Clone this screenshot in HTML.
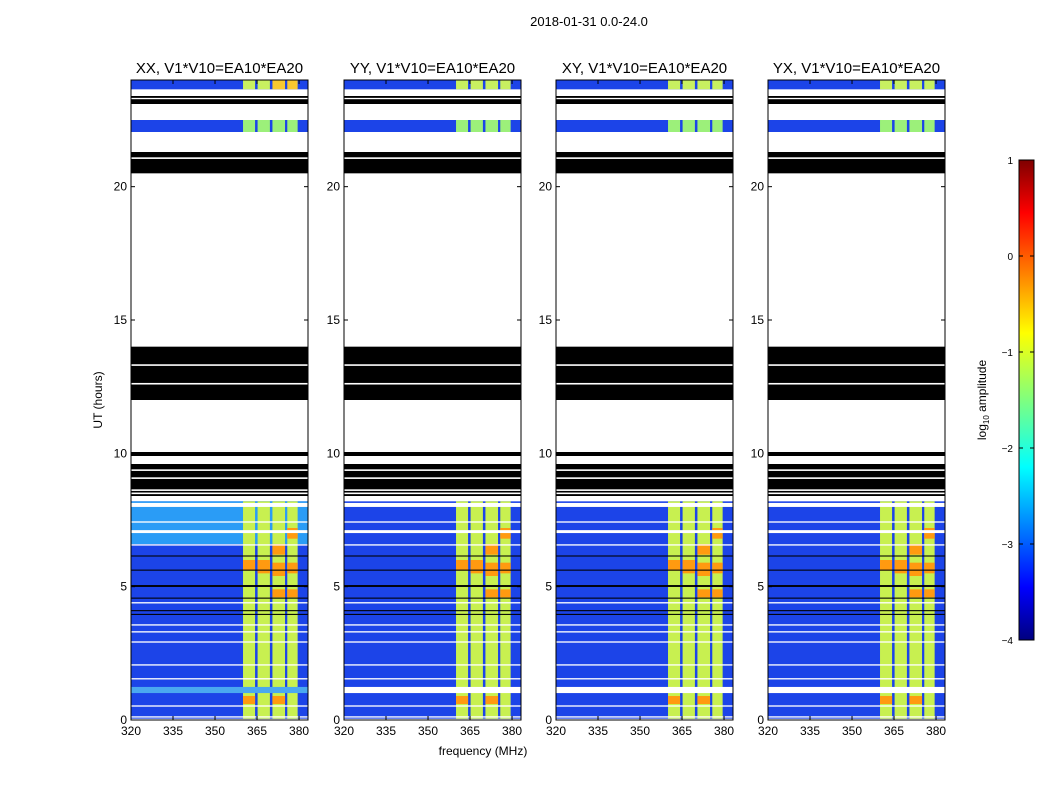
<!DOCTYPE html>
<html><head><meta charset="utf-8"><style>
body{margin:0;background:#fff;font-family:"Liberation Sans",sans-serif}
svg text{font-family:"Liberation Sans",sans-serif}
</style></head><body>
<svg id="c" width="1050" height="800" xmlns="http://www.w3.org/2000/svg">
<text x="589" y="26" font-size="13" text-anchor="middle">2018-01-31 0.0-24.0</text>
<text x="483" y="755" font-size="12" text-anchor="middle">frequency (MHz)</text>
<text transform="translate(102,400) rotate(-90)" font-size="12" text-anchor="middle">UT (hours)</text>
<defs><linearGradient id="jet" x1="0" y1="1" x2="0" y2="0">
<stop offset="0" stop-color="#00007f"/><stop offset="0.11" stop-color="#0000ff"/><stop offset="0.36" stop-color="#00ffff"/><stop offset="0.5" stop-color="#7fff7f"/><stop offset="0.64" stop-color="#ffff00"/><stop offset="0.89" stop-color="#ff0000"/><stop offset="1" stop-color="#7f0000"/></linearGradient></defs>
<rect x="1019" y="160" width="15" height="480" fill="url(#jet)" stroke="#000"/>
<text transform="translate(986,400) rotate(-90)" font-size="12" text-anchor="middle">log<tspan font-size="8" dy="3">10</tspan><tspan dy="-3"> amplitude</tspan></text>
<g id="cbt"></g>
</svg>
<script>
const panelTitles=["XX, V1*V10=EA10*EA20","YY, V1*V10=EA10*EA20","XY, V1*V10=EA10*EA20","YX, V1*V10=EA10*EA20"];
const panelX=[131,344,556,768];
const dataRows=[[23.65,24],[22.05,22.5],[0.05,8.2]];
const blackRows=[[23.1,23.4],[20.5,21.3],[12.0,14.0],[9.9,10.05],[8.4,9.6],[6.13,6.17],[5.6,5.64],[4.99,5.06],[4.55,4.59],[4.08,4.12],[3.94,3.98]];
const whiteRows=[[23.28,23.33],[21.04,21.1],[13.28,13.34],[12.58,12.64],[9.34,9.4],[9.04,9.1],[8.59,8.65],[8.47,8.53],[7.99,8.14],[7.4,7.45],[7.01,7.12],[6.54,6.59],[4.37,4.42],[3.54,3.59],[3.28,3.33],[2.9,2.95],[2.04,2.09],[1.52,1.57],[0.5,0.55],[0.09,0.14]];
const lightRows=[[1.01,1.24]];
const bandCols=[[360,364.3],[365.2,369.6],[370.5,375],[375.8,379.5]];
const hotCells=[[2,5.4,5.9],[3,5.5,5.9],[2,4.6,4.9],[3,4.6,4.9],[0,5.6,6.0],[1,5.5,6.0],[2,6.2,6.6],[3,6.8,7.2],[2,0.6,0.9],[0,0.6,0.9]];
const xTicks=[320,335,350,365,380];
const yTicks=[0,5,10,15,20];
const cbTicks=[1,0,-1,-2,-3,-4];
const NS="http://www.w3.org/2000/svg",svg=document.getElementById('c');
const W=177,top0=80,bot=720,fmin=320,fmax=383.2;
const yS=h=>bot-h/24*(bot-top0);
function el(t,a,p){const e=document.createElementNS(NS,t);for(const k in a)e.setAttribute(k,a[k]);(p||svg).appendChild(e);return e;}
panelX.forEach((px,pi)=>{
 const xS=f=>px+(f-fmin)/(fmax-fmin)*W;
 const g=el('g',{});
 
 
 dataRows.forEach((r,ri)=>{
  const main=r[1]<9;
  const bg=el('rect',{x:px,y:yS(r[1]),width:W,height:yS(r[0])-yS(r[1]),fill:'#1c44e8'},g);
  
  
  if(main&&pi==0){el('rect',{x:px,y:yS(8.2),width:W,height:yS(6.6)-yS(8.2),fill:'#2a9cf6'},g);}
  bandCols.forEach((c,ci)=>{
   let col=main?'#c8f050':(ri==0?'#c8f060':'#9cf07a');
   if(ri==0&&pi==0&&ci>=2)col='#f8c830';
   const b=el('rect',{x:xS(c[0]),y:yS(r[1]),width:xS(c[1])-xS(c[0]),height:yS(r[0])-yS(r[1]),fill:col},g);
   
   
  });
 });
 hotCells.forEach(h=>{const c=bandCols[h[0]];
  const r=el('rect',{x:xS(c[0]),y:yS(h[2]),width:xS(c[1])-xS(c[0]),height:yS(h[1])-yS(h[2]),fill:'#ff9a10'},g);
  
  
 });
 blackRows.forEach(r=>{const e=el('rect',{x:px,y:yS(r[1]),width:W,height:yS(r[0])-yS(r[1]),fill:'#000'},g);
  
  });
 lightRows.forEach(r=>{el('rect',{x:px,y:yS(r[1]),width:W,height:yS(r[0])-yS(r[1]),fill:pi==0?'#4aa8f0':'#fff'},g);});
 whiteRows.forEach(r=>{el('rect',{x:px,y:yS(r[1]),width:W,height:yS(r[0])-yS(r[1]),fill:'#fff'},g);});
 const fr=el('rect',{x:px,y:top0,width:W,height:bot-top0,fill:'none',stroke:'#000','stroke-width':1},g);
 
 
 const t=el('text',{x:px+W/2,y:73,'font-size':15,'text-anchor':'middle'},g);t.textContent=panelTitles[pi];
 
 
 xTicks.forEach(v=>{const x=xS(v);el('line',{x1:x,x2:x,y1:bot,y2:bot-4,stroke:'#000'},g);el('line',{x1:x,x2:x,y1:top0,y2:top0+4,stroke:'#000'},g);
  const tx=el('text',{x:x,y:bot+15,'font-size':12,'text-anchor':'middle'},g);tx.textContent=v;
  
  });
 yTicks.forEach(v=>{const y=yS(v);el('line',{x1:px,x2:px+4,y1:y,y2:y,stroke:'#000'},g);el('line',{x1:px+W,x2:px+W-4,y1:y,y2:y,stroke:'#000'},g);
  const ty=el('text',{x:px-4,y:y+4,'font-size':12,'text-anchor':'end'},g);ty.textContent=v;
  
  });
});
const cg=document.getElementById('cbt');
cbTicks.forEach(v=>{const y=160+(1-v)/5*480;
 el('line',{x1:1019,x2:1023,y1:y,y2:y,stroke:'#000'},cg);el('line',{x1:1034,x2:1030,y1:y,y2:y,stroke:'#000'},cg);
 const t=el('text',{x:1013,y:y+4,'font-size':10,'text-anchor':'end'},cg);t.textContent=(v<0?'\u2212'+(-v):v);
 
 });
</script>
</body></html>
